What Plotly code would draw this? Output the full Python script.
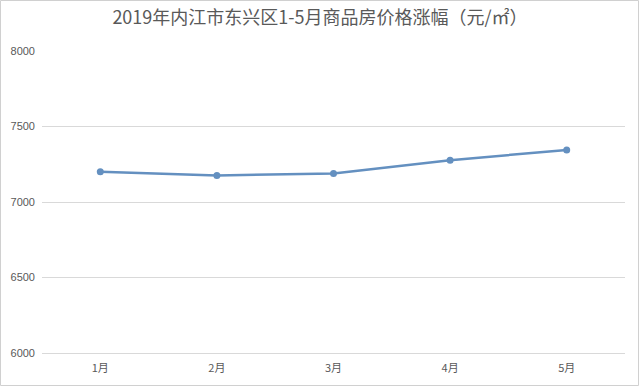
import plotly.graph_objects as go

months = ["1月", "2月", "3月", "4月", "5月"]
prices = [7200, 7176, 7188, 7277, 7345]
y_ticks = [6000, 6500, 7000, 7500, 8000]
title_text = "2019年内江市东兴区1-5月商品房价格涨幅（元/㎡）"

W, H = 640, 386
L, R, T, B = 42, 15, 51, 33
pw, ph = W - L - R, H - T - B

fig = go.Figure()
fig.add_trace(go.Scatter(
    x=months, y=prices, mode="lines+markers",
    line=dict(color="#6490C0", width=2.5),
    marker=dict(color="#6490C0", size=7),
    hoverinfo="x+y", showlegend=False,
))

fig.update_layout(
    width=W, height=H,
    margin=dict(l=L, r=R, t=T, b=B),
    paper_bgcolor="white", plot_bgcolor="white",
    title=dict(text=title_text, x=0.5, xanchor="center", y=1 - 18 / H, yanchor="middle",
               font=dict(family="Noto Sans CJK SC", size=18, color="#595959")),
    xaxis=dict(type="category", range=[-0.5, 4.5], showgrid=False, zeroline=False,
               showline=True, linecolor="#D9D9D9", linewidth=1,
               ticks="", ticklabelstandoff=5,
               tickfont=dict(family="Noto Sans CJK SC", size=11, color="#595959")),
    yaxis=dict(range=[6000, 8000], tickvals=y_ticks, ticktext=[str(v) for v in y_ticks],
               showgrid=True, gridcolor="#D9D9D9", gridwidth=1, zeroline=False,
               showline=False, ticks="", ticklabelstandoff=6,
               tickfont=dict(family="Liberation Sans", size=11, color="#595959")),
    shapes=[dict(type="rect", xref="paper", yref="paper",
                 x0=(-L + 0.5) / pw, x1=(W - L - 1.5) / pw,
                 y0=(-B + 0.5) / ph, y1=(H - B - 0.5) / ph,
                 line=dict(color="#D0D0D0", width=1), layer="below")],
)

fig.write_html("out.html")
